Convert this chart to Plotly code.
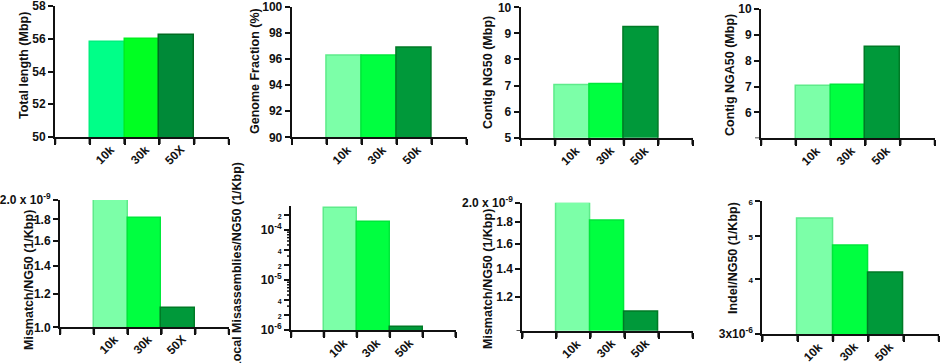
import plotly.graph_objects as go

W, H = 941, 363

# ---------------- data ----------------
cats_p1 = ["10k", "30k", "50X"]
cats = ["10k", "30k", "50k"]
total_length = [55.82, 55.97, 56.2]
genome_fraction = [96.22, 96.25, 96.88]
contig_ng50 = [7.02, 7.06, 9.24]
contig_nga50 = [7.01, 7.05, 8.54]
mismatch_ng50_a = [2.0e-9, 1.81e-9, 1.11e-9]
local_mis_ng50 = [2.75e-4, 1.42e-4, 1.16e-6]
mismatch_ng50_b = [2.0e-9, 1.81e-9, 1.11e-9]
indel_ng50 = [5.45e-6, 4.74e-6, 4.12e-6]

# ---------------- styles ----------------
colors_p1 = ["#00FF88", "#00FF22", "#008A38"]
lines_p1 = ["#00F07E", "#00F01E", "#006B21"]
colors = ["#7CFFA8", "#00FF40", "#00993A"]
lines = ["#5EEB8A", "#00E83A", "#007A26"]

FONT = "Liberation Sans, Arial, sans-serif"
INK = "#111111"


def sm(t, s):
    return f"<span style='font-size:{s}px'>{t}</span>"


panels = [
    dict(box=(55, 229, 6, 137), tpos=(24, 66), title="Total length (Mbp)", cats=cats_p1,
         vals=total_length, fill=colors_p1, line=lines_p1,
         y=dict(type="linear", range=[50, 58], tickvals=[50, 52, 54, 56, 58],
                ticktext=["50", "52", "54", "56", "58"])),
    dict(box=(291.7, 466.7, 6.7, 137.3), tpos=(255, 71), title="Genome Fraction (%)", cats=cats,
         vals=genome_fraction, fill=colors, line=lines,
         y=dict(type="linear", range=[90, 100], tickvals=[90, 92, 94, 96, 98, 100],
                ticktext=["90", "92", "94", "96", "98", "100"])),
    dict(box=(520.7, 692.7, 7.3, 137.7), tpos=(488, 73), title="Contig NG50 (Mbp)", cats=cats,
         vals=contig_ng50, fill=colors, line=lines,
         y=dict(type="linear", range=[5, 10], tickvals=[5, 6, 7, 8, 9, 10],
                ticktext=["5", "6", "7", "8", "9", "10"])),
    dict(box=(761, 935, 9, 138.3), tpos=(730, 75), title="Contig NGA50 (Mbp)", cats=cats,
         vals=contig_nga50, fill=colors, line=lines,
         y=dict(type="linear", range=[5, 10], tickvals=[6, 7, 8, 9, 10],
                ticktext=["6", "7", "8", "9", "10"], minor=[5], minorlen=5)),
    dict(box=(60, 229, 200, 327.3), tpos=(29, 280), title="Mismatch/NG50 (1/Kbp)", cats=cats_p1,
         vals=mismatch_ng50_a, fill=colors, line=lines,
         y=dict(type="log", range=[-9, -9 + 0.30103],
                tickvals=[1.0e-9, 1.2e-9, 1.4e-9, 1.6e-9, 1.8e-9, 2.0e-9],
                ticktext=["1.0", "1.2", "1.4", "1.6", "1.8", "2.0 x 10<sup>-9</sup>"])),
    dict(box=(291, 455.7, 206, 330), tpos=(237, 266), title="Local Misassemblies/NG50 (1/Kbp)",
         cats=cats, vals=local_mis_ng50, fill=colors, line=lines,
         y=dict(type="log", range=[-6, -4 + 0.4771],
                tickvals=[1e-6, 2e-6, 4e-6, 1e-5, 2e-5, 4e-5, 1e-4, 2e-4],
                ticktext=["10<sup>-6</sup>", sm("2", 7), sm("4", 7), "10<sup>-5</sup>",
                          sm("2", 7), sm("4", 7), "10<sup>-4</sup>", sm("2", 7)],
                minor=[m * 10 ** e for e in (-6, -5, -4) for m in (3, 5, 6, 7, 8, 9)
                       if m * 10 ** e <= 3e-4], minorlen=3)),
    dict(box=(522.3, 692.7, 202.7, 330.7), tpos=(488, 279), title="Mismatch/NG50 (1/Kbp)", cats=cats,
         vals=mismatch_ng50_b, fill=colors, line=lines,
         y=dict(type="log", range=[-9, -9 + 0.30103],
                tickvals=[1.2e-9, 1.4e-9, 1.6e-9, 1.8e-9, 2.0e-9],
                ticktext=["1.2", "1.4", "1.6", "1.8", "2.0 x 10<sup>-9</sup>"],
                minor=[1.0e-9], minorlen=5)),
    dict(box=(762.3, 939, 200.7, 334), tpos=(733, 258), title="Indel/NG50 (1/Kbp)", cats=cats,
         vals=indel_ng50, fill=colors, line=lines,
         y=dict(type="log", range=[-6 + 0.47712, -6 + 0.77815],
                tickvals=[3e-6, 4e-6, 5e-6, 6e-6],
                ticktext=["3x10<sup>-6</sup>", sm("4", 8), sm("5", 8), sm("6", 8)])),
]

fig = go.Figure()
positions = [1, 2, 3]
bounds = [-0.5, 0.5, 1.5, 2.5, 3.5, 4.5]
annotations = []
n = len(panels)

for i, p in enumerate(panels, start=1):
    xa = "x" if i == 1 else f"x{i}"
    ya = "y" if i == 1 else f"y{i}"
    fig.add_trace(go.Bar(
        x=positions, y=p["vals"], width=1.0,
        marker=dict(color=p["fill"], line=dict(color=p["line"], width=1.5)),
        xaxis=xa, yaxis=ya, showlegend=False, hoverinfo="skip",
    ))
    x0, x1, y0, y1 = p["box"]
    xkey = "xaxis" if i == 1 else f"xaxis{i}"
    ykey = "yaxis" if i == 1 else f"yaxis{i}"
    fig.layout[xkey] = dict(
        domain=[x0 / W, x1 / W], anchor=ya, range=[-0.5, 4.5], type="linear",
        tickmode="array", tickvals=bounds, showticklabels=False,
        ticks="outside", ticklen=6, tickwidth=2, tickcolor=INK,
        showline=True, linecolor=INK, linewidth=2, showgrid=False, zeroline=False,
        fixedrange=True, automargin=False,
    )
    yd = p["y"]
    fig.layout[ykey] = dict(
        domain=[1 - y1 / H, 1 - y0 / H], anchor=xa, type=yd["type"], range=yd["range"],
        tickmode="array", tickvals=yd["tickvals"], ticktext=yd["ticktext"],
        ticks="outside", ticklen=5, tickwidth=2, tickcolor=INK,
        tickfont=dict(family=FONT, size=12, color=INK, weight="bold"),
        ticklabeloverflow="allow",
        showline=True, linecolor=INK, linewidth=2, showgrid=False, zeroline=False,
        fixedrange=True, automargin=False,
    )

    # ---- x tick marks at category boundaries: thin strip axis below the x axis ----
    ys_id = n + i
    ys = f"y{ys_id}"
    fig.layout[f"yaxis{ys_id}"] = dict(
        domain=[1 - (y1 + 7) / H, 1 - y1 / H], range=[0, 1], anchor=xa,
        visible=False, fixedrange=True, automargin=False,
    )
    tx, ty = [], []
    for b in bounds:
        tx += [b, b, None]
        ty += [0, 1, None]
    fig.add_trace(go.Scatter(
        x=tx, y=ty, mode="lines", line=dict(color=INK, width=2.5),
        xaxis=xa, yaxis=ys, showlegend=False, hoverinfo="skip", cliponaxis=False,
    ))

    # ---- extra y minor ticks: thin strip axis left of the y axis ----
    if "minor" in yd:
        xs_id = n + i
        xs = f"x{xs_id}"
        fig.layout[f"xaxis{xs_id}"] = dict(
            domain=[(x0 - 1 - yd["minorlen"]) / W, (x0 - 1) / W], range=[0, 1], anchor=ya,
            visible=False, fixedrange=True, automargin=False,
        )
        mx, my = [], []
        for v in yd["minor"]:
            mx += [0, 1, None]
            my += [v, v, None]
        fig.add_trace(go.Scatter(
            x=mx, y=my, mode="lines", line=dict(color=INK, width=1.5),
            xaxis=xs, yaxis=ya, showlegend=False, hoverinfo="skip", cliponaxis=False,
        ))

    # rotated category labels under each bar
    for xv, c in zip(positions, p["cats"]):
        annotations.append(dict(
            x=xv, xref=xa, y=1 - y1 / H, yref="paper", text=c, showarrow=False,
            textangle=-45, xshift=-2, yshift=-18, xanchor="center", yanchor="middle",
            font=dict(family=FONT, size=12, color=INK, weight="bold"),
        ))
    # y-axis title
    cx, cy = p["tpos"]
    annotations.append(dict(
        x=cx / W, y=1 - cy / H, xref="paper", yref="paper", text=p["title"],
        showarrow=False, textangle=-90, xanchor="center", yanchor="middle",
        font=dict(family=FONT, size=12.5, color=INK, weight="bold"),
    ))

fig.update_layout(
    template="simple_white",
    width=W, height=H, margin=dict(l=0, r=0, t=0, b=0, autoexpand=False),
    paper_bgcolor="white", plot_bgcolor="white", bargap=0,
    font=dict(family=FONT, color=INK),
    annotations=annotations,
)

fig.write_html("out.html", config={"displayModeBar": False},
               post_script="document.body.style.margin='0px';")
